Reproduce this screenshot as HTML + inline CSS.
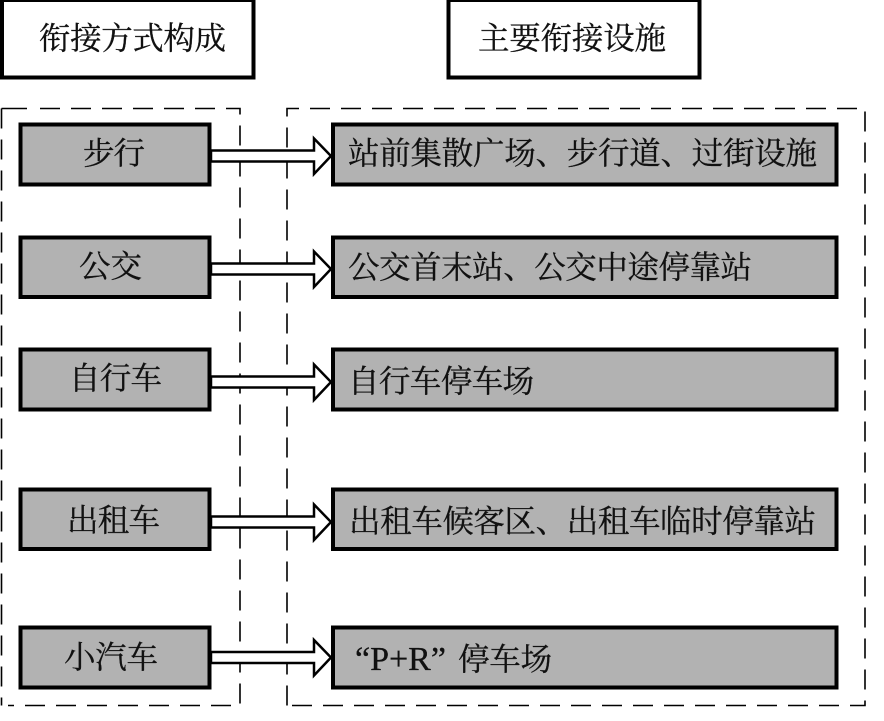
<!DOCTYPE html>
<html lang="zh">
<head>
<meta charset="utf-8">
<style>
html,body{margin:0;padding:0;background:#fff}
svg{display:block}
text{font-family:"Liberation Serif","Noto Serif CJK SC",serif;font-size:31.5px;fill:#111;stroke:#111;stroke-width:.3}
.b{fill:#b2b2b2;stroke:#000;stroke-width:4}
.h{fill:#fff;stroke:#000;stroke-width:4}
.d{fill:none;stroke:#000;stroke-width:1.6;stroke-dasharray:20 11}
.a{fill:#fff;stroke:#000;stroke-width:2.500;stroke-linejoin:miter}
</style>
</head>
<body>
<svg width="884" height="721" viewBox="0 0 884 721" xmlns="http://www.w3.org/2000/svg">
<rect class="h" x="2" y="0" width="251.500" height="77.500"/>
<rect class="h" x="448.500" y="0" width="251" height="77.500"/>
<text x="39" y="49" textLength="187">衔接方式构成</text>
<text x="478" y="49" textLength="188">主要衔接设施</text>

<path class="d" d="M1.500 108.500V705.500"/>
<path class="d" d="M1.500 108.500H27" style="stroke-dasharray:none"/>
<path class="d" d="M40 108.500H240V705.500H8"/>
<path class="d" d="M287 705.500V108.500H865V705.500H287"/>

<rect class="b" x="20.500" y="124.500" width="189" height="60"/>
<rect class="b" x="20.500" y="237.500" width="189" height="59.500"/>
<rect class="b" x="20.500" y="349.500" width="189" height="60"/>
<rect class="b" x="20.500" y="489.500" width="189" height="59.500"/>
<rect class="b" x="20.500" y="627.500" width="189" height="60"/>

<rect class="b" x="333" y="124.500" width="503.500" height="60"/>
<rect class="b" x="333" y="237.500" width="503.500" height="59.500"/>
<rect class="b" x="333" y="349.500" width="503.500" height="60"/>
<rect class="b" x="333" y="489.500" width="503.500" height="59.500"/>
<rect class="b" x="333" y="627.500" width="503.500" height="60"/>

<path class="a" d="M211 150.500H314V138.500L331 156L314 174V161.500H211Z"/>
<path class="a" d="M211 263.500H314V251.500L331 269L314 287V274.500H211Z"/>
<path class="a" d="M211 376.500H314V364.500L331 382L314 400V387.500H211Z"/>
<path class="a" d="M211 516.500H314V504.500L331 522L314 540V527.500H211Z"/>
<path class="a" d="M211 652H314V640L331 657.500L314 675.500V663H211Z"/>

<text x="83" y="164" textLength="62">步行</text>
<text x="79" y="277" textLength="63">公交</text>
<text x="69" y="389" textLength="93">自行车</text>
<text x="67" y="531" textLength="93">出租车</text>
<text x="64" y="668" textLength="94">小汽车</text>

<text x="348" y="164" textLength="469">站前集散广场、步行道、过街设施</text>
<text x="348" y="278" textLength="404">公交首末站、公交中途停靠站</text>
<text x="348" y="392" textLength="186">自行车停车场</text>
<text x="349" y="532" textLength="467">出租车候客区、出租车临时停靠站</text>
<text x="355" y="670" style="font-size:34px">“P+R”</text>
<text x="458" y="670" textLength="94">停车场</text>
</svg>
</body>
</html>
